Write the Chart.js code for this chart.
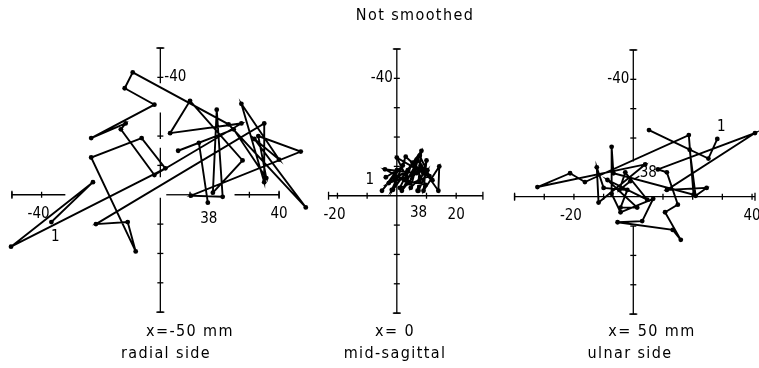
<!DOCTYPE html>
<html>
<head>
<meta charset="utf-8">
<script src="https://cdn.jsdelivr.net/npm/chart.js@4.4.1/dist/chart.umd.min.js"></script>
<style>
  html, body { margin: 0; padding: 0; background: #fff; }
  #wrap { position: relative; width: 759px; height: 368px; overflow: hidden;
          font-family: "DejaVu Sans Condensed", "DejaVu Sans", sans-serif; color: #000; }
  #chart { position: absolute; left: 0; top: 0; }
  .lbl { position: absolute; white-space: nowrap; font-size: 16px; line-height: 16px;
         letter-spacing: 1.4px; transform: translateX(-50%); }
</style>
</head>
<body>
<div id="wrap">
  <canvas id="chart" width="759" height="368"></canvas>
</div>
<script>
// DATA (mm, y axis points down: negative is up)
const title = "Not smoothed";
const captions = [["x=-50 mm", "radial side"], ["x= 0", "mid-sagittal"], ["x= 50 mm", "ulnar side"]];

const radialX = [-36.7, -22.7, -50.3, 1.7, -6.3, -23.3, -8.3, -11, -21.7, 35, 35, 27.3, 40, 31.7, 49, 23, -9.3, -12, -2,
  -23.3, -11.7, -13.3, -2, 27.3, 3.3, 10, 27.7, 17.7, 19, 21, 10.3, 47.3, 33, 35.7, 24.7, 6, 13, 16];
const radialY = [9.3, -4.3, 17.7, -9, -19.3, -12.7, 19.3, 9.3, 10, -24.3, -4.3, -31, -12, -19, 4.3, -24, -41.7, -36.3, -30.7,
  -19.3, -24.3, -22.3, -6.7, -24.3, -21, -32, -11.7, -0.7, -29, 0.7, 0.3, -14.7, -20, -5.7, -22.3, -15, -17.7, 2.7];

const sagittalX = [-3.7, 0, -5, 2, -1.7, 6.7, 4.3, 0, 9, 3, -1.3, 8.3, 7, 10, 9, 14.3, 14, 8, 6.7,
  -4, 2.7, 5.3, 1, 11, 7.7, 5, -2.7, 3.7, -0.7, 9.7, 6, 1.7, 7.7, 12, 7, 4.7, 10.3, 7.3];
const sagittalY = [-6.3, -8.7, -1.7, -10.3, -2, -12.3, -4.3, -13, -7.7, -13.3, -2, -15.3, -1.7, -12, -1.7, -10, -1.7, -10.3, -7.7,
  -9, -5.3, -11.3, -2.7, -6.7, -13.7, -7, -4.3, -8.7, -6, -3.7, -10, -1.7, -9.3, -5.3, -12, -2.7, -8.7, -1.7];

const ulnarX = [28.3, 25.3, 5.3, 19, 21, 24.7, 11.3, 41, 8.3, 11.3, 15, 10.7, 16, 13.3, -5.3, 3, 6.7, -4.3, -7.3,
  -7.3, -6.7, 20.3, 18.7, -16.3, -21.3, -32.3, 4, -11.7, -12.3, -10, -2, -4.3, 1.3, -8.7, 4.7, -2.7, -4.7, -1];
const ulnarY = [-19.7, -13, -22.7, -16, -0.3, -3, -2.3, -21.7, -9.3, -8.3, 2.7, 5.3, 14.7, 11.3, 8.7, 8.3, 0.7, 5.3, -1,
  -17, -8, -0.7, -21, -5, -8, -3.3, -11, 2, -10, -3, -2.3, 3.7, 3.7, -5.7, 1, -8.3, -2.3, -5.3];

const radialXTicks = [-40, 40], radialYTicks = [-40];
const sagittalXTicks = [-20, 20], sagittalYTicks = [-40];
const ulnarXTicks = [-20, 40], ulnarYTicks = [-40];

// LAYOUT: pixel origin of each panel, 3 px per mm
const PX = 3;
const W = 759, H = 368;
const panels = [
  { xs: [radialX, radialY], o: [158, 195], xt: radialXTicks, yt: radialYTicks, yLabelSide: 1,
    h: [[-50, -32], [2, 10], [25, 40]], v: [[-50, -38], [-28, -19], [-16, -6], [1, 40]],
    lab1: [4, 15], lab38: [1, 16] },
  { xs: [sagittalX, sagittalY], o: [397, 196], xt: sagittalXTicks, yt: sagittalYTicks, yLabelSide: -1,
    h: [[-23, 29]], v: [[-50, 40]],
    lab1: [-16, 3], lab38: [0, 22] },
  { xs: [ulnarX, ulnarY], o: [636, 197], xt: ulnarXTicks, yt: ulnarYTicks, yLabelSide: -1,
    h: [[-40, 41]], v: [[-50, -12], [10, 40]],
    lab1: [4, -12], lab38: [18, -8], leader: true },
];

const ink = "#000";
const font = '15px "DejaVu Sans Condensed", "DejaVu Sans", sans-serif';

const scales = {};
panels.forEach((p, i) => {
  scales["x" + i] = { type: "linear", display: false, min: -p.o[0] / PX, max: (W - p.o[0]) / PX };
  scales["y" + i] = { type: "linear", display: false, reverse: true, min: -p.o[1] / PX, max: (H - p.o[1]) / PX };
});

// cross axes drawn at the origin of each panel
const crossAxes = {
  id: "crossAxes",
  beforeDatasetsDraw(chart) {
    const ctx = chart.ctx;
    ctx.save();
    ctx.strokeStyle = ink;
    ctx.fillStyle = ink;
    ctx.lineWidth = 1.3;
    ctx.font = font;
    panels.forEach((p, i) => {
      const sx = chart.scales["x" + i], sy = chart.scales["y" + i];
      const x0 = sx.getPixelForValue(0), y0 = sy.getPixelForValue(0);
      const line = (a, b, c, d) => { ctx.beginPath(); ctx.moveTo(a, b); ctx.lineTo(c, d); ctx.stroke(); };
      const hMin = Math.min(...p.h.map(s => s[0])), hMax = Math.max(...p.h.map(s => s[1]));
      const vMin = Math.min(...p.v.map(s => s[0])), vMax = Math.max(...p.v.map(s => s[1]));
      p.h.forEach(([a, b]) => {
        line(sx.getPixelForValue(a), y0, sx.getPixelForValue(b), y0);
        for (let t = Math.ceil(a / 10) * 10; t <= b; t += 10) {
          if (t === 0) continue;
          const x = sx.getPixelForValue(t);
          line(x, y0 - 3, x, y0 + 3);
        }
      });
      [hMin, hMax].forEach(t => { const x = sx.getPixelForValue(t); line(x, y0 - 4, x, y0 + 4); });
      p.v.forEach(([a, b]) => {
        line(x0, sy.getPixelForValue(a), x0, sy.getPixelForValue(b));
        for (let t = Math.ceil(a / 10) * 10; t <= b; t += 10) {
          if (t === 0) continue;
          const y = sy.getPixelForValue(t);
          line(x0 - 3, y, x0 + 3, y);
        }
      });
      [vMin, vMax].forEach(t => { const y = sy.getPixelForValue(t); line(x0 - 4, y, x0 + 4, y); });

      ctx.textBaseline = "middle";
      ctx.textAlign = "center";
      p.xt.forEach(t => ctx.fillText(String(t), sx.getPixelForValue(t) - (t < 0 ? 3 : 0), y0 + 19));
      ctx.textAlign = p.yLabelSide > 0 ? "left" : "right";
      p.yt.forEach(t => ctx.fillText(String(t), x0 + p.yLabelSide * 4, sy.getPixelForValue(t)));
    });
    ctx.restore();
  },
  afterDatasetsDraw(chart) {
    const ctx = chart.ctx;
    ctx.save();
    ctx.fillStyle = ink;
    ctx.strokeStyle = ink;
    ctx.lineWidth = 1.3;
    ctx.font = font;
    ctx.textAlign = "center";
    ctx.textBaseline = "middle";
    panels.forEach((p, i) => {
      const pts = chart.getDatasetMeta(i).data;
      const first = pts[0], last = pts[pts.length - 1];
      ctx.fillText("1", first.x + p.lab1[0], first.y + p.lab1[1]);
      ctx.fillText("38", last.x + p.lab38[0], last.y + p.lab38[1]);
      if (p.leader) {
        ctx.beginPath();
        ctx.moveTo(last.x + 4, last.y - 2);
        ctx.lineTo(last.x + 9, last.y - 5);
        ctx.stroke();
      }
    });
    ctx.restore();
  },
};

new Chart(document.getElementById("chart"), {
  type: "scatter",
  data: {
    datasets: panels.map((p, i) => ({
      label: captions[i][1],
      data: p.xs[0].map((x, k) => ({ x: x, y: p.xs[1][k] })),
      xAxisID: "x" + i,
      yAxisID: "y" + i,
      showLine: true,
      borderColor: ink,
      backgroundColor: ink,
      borderWidth: 1.9,
      pointRadius: 2.4,
      pointBackgroundColor: ink,
      pointBorderWidth: 0,
      tension: 0,
      clip: false,
    })),
  },
  options: {
    responsive: false,
    animation: false,
    layout: { padding: 0 },
    scales: scales,
    plugins: { legend: { display: false }, tooltip: { enabled: false }, title: { display: false } },
  },
  plugins: [crossAxes],
});

// HTML text: title and captions
const wrap = document.getElementById("wrap");
function addLabel(text, cx, top) {
  const d = document.createElement("div");
  d.className = "lbl";
  d.textContent = text;
  d.style.left = cx + "px";
  d.style.top = top + "px";
  wrap.appendChild(d);
}
addLabel(title, 415, 7);
const capPos = [[190, 166], [395, 395], [652, 630]];
captions.forEach((c, i) => {
  addLabel(c[0], capPos[i][0], 323);
  addLabel(c[1], capPos[i][1], 345);
});
</script>
</body>
</html>
